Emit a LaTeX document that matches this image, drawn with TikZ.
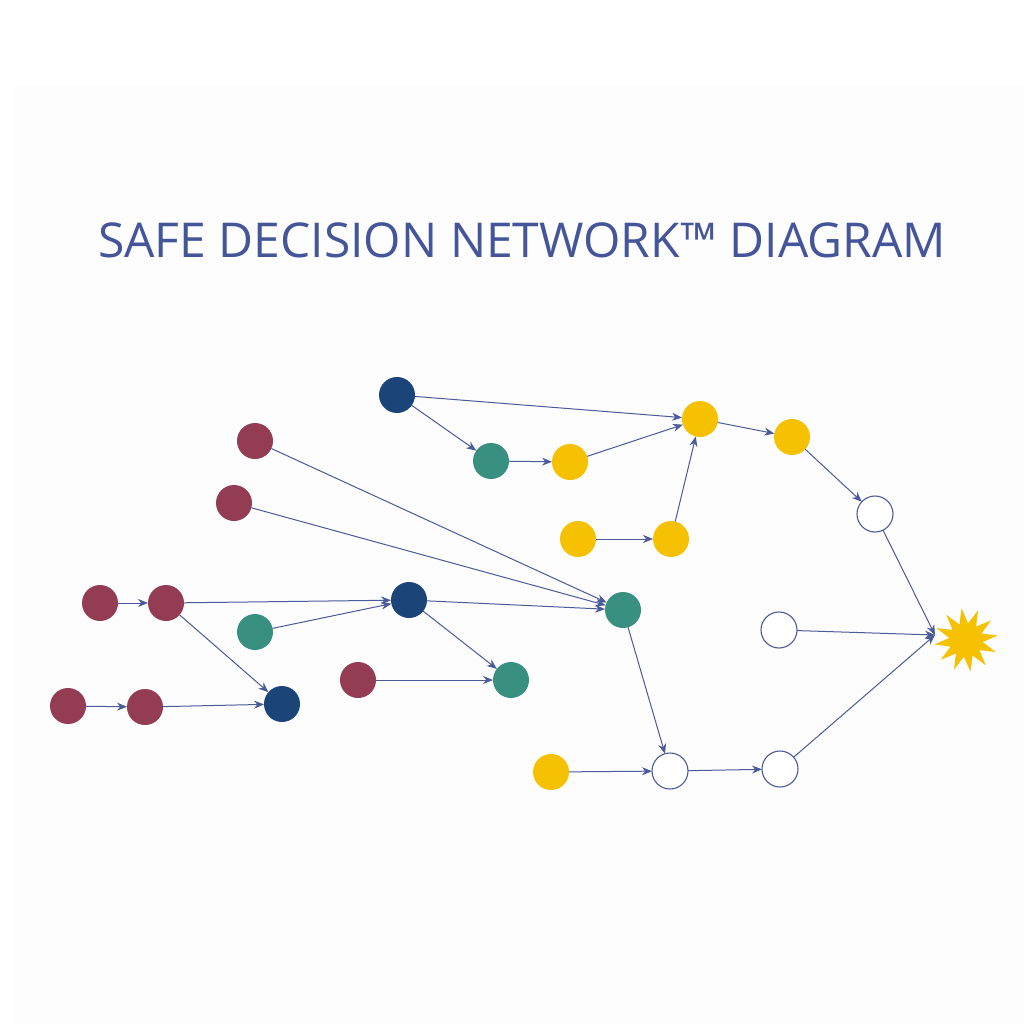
\documentclass[tikz,border=0pt]{standalone}
\usepackage{fontspec}
\setmainfont{Open Sans}
\usetikzlibrary{arrows.meta,shapes.geometric}
\definecolor{maroon}{HTML}{933C54}
\definecolor{teal}{HTML}{3A9080}
\definecolor{navy}{HTML}{1B4479}
\definecolor{gold}{HTML}{F6C100}
\definecolor{edge}{HTML}{4A5A9A}
\definecolor{titlec}{HTML}{44559A}
\definecolor{bgc}{HTML}{FDFDFD}
\tikzset{
  dot/.style={circle,minimum size=36pt,inner sep=0pt,outer sep=0pt},
  rd/.style={dot,fill=maroon},
  gn/.style={dot,fill=teal},
  nv/.style={dot,fill=navy},
  yl/.style={dot,fill=gold},
  wt/.style={dot,draw=edge,line width=1.1pt,fill=white},
  link/.style={draw=edge,line width=1pt,-{Stealth[length=10pt,width=8pt]}},
}
\begin{document}
\begin{tikzpicture}[x=1pt,y=-1pt]
\useasboundingbox (0,0) rectangle (1024,1024);
\fill[white] (0,0) rectangle (1024,1024);
\fill[bgc] (15,85) rectangle (1024,1024);
\node[titlec,font=\fontsize{48}{56}\selectfont,anchor=base] (title) at (522,258) {SAFE DECISION NETWORK™ DIAGRAM};
% nodes
\node[nv] (n1) at (397,395) {};
\node[gn] (g1) at (491,461) {};
\node[yl] (y1) at (570,462) {};
\node[yl] (y2) at (700,419) {};
\node[yl] (y3) at (792,437) {};
\node[wt] (w1) at (875,514) {};
\node[yl] (y4) at (578,539) {};
\node[yl] (y5) at (671,539) {};
\node[rd] (r1) at (255,441) {};
\node[rd] (r2) at (234,503) {};
\node[rd] (r3) at (100,603) {};
\node[rd] (r4) at (166,603) {};
\node[gn] (g2) at (255,632) {};
\node[nv] (n2) at (409,600) {};
\node[gn] (g3) at (623,610) {};
\node[rd] (r5) at (358,680) {};
\node[gn] (g4) at (511,680) {};
\node[rd] (r6) at (68,706) {};
\node[rd] (r7) at (145,707) {};
\node[nv] (n3) at (282,704) {};
\node[yl] (y6) at (551,772) {};
\node[wt] (w2) at (670,771) {};
\node[wt] (w3) at (780,769) {};
\node[wt] (w4) at (779,630) {};
\node[star,star points=12,star point ratio=1.9,fill=gold,minimum size=64pt,inner sep=0pt,rotate=8] (burst) at (966,640) {};
\coordinate (hit) at (935,635);
% edges
\path[link] (n1) -- (y2);
\path[link] (n1) -- (g1);
\path[link] (g1) -- (y1);
\path[link] (y1) -- (y2);
\path[link] (y4) -- (y5);
\path[link] (y5) -- (y2);
\path[link] (y2) -- (y3);
\path[link] (y3) -- (w1);
\path[link] (w1) -- (hit);
\path[link] (w4) -- (hit);
\path[link] (w3) -- (hit);
\path[link] (r1) -- (g3);
\path[link] (r2) -- (g3);
\path[link] (r3) -- (r4);
\path[link] (r4) -- (n2);
\path[link] (r4) -- (n3);
\path[link] (g2) -- (n2);
\path[link] (n2) -- (g3);
\path[link] (n2) -- (g4);
\path[link] (r5) -- (g4);
\path[link] (r6) -- (r7);
\path[link] (r7) -- (n3);
\path[link] (g3) -- (w2);
\path[link] (y6) -- (w2);
\path[link] (w2) -- (w3);
\end{tikzpicture}
\end{document}
